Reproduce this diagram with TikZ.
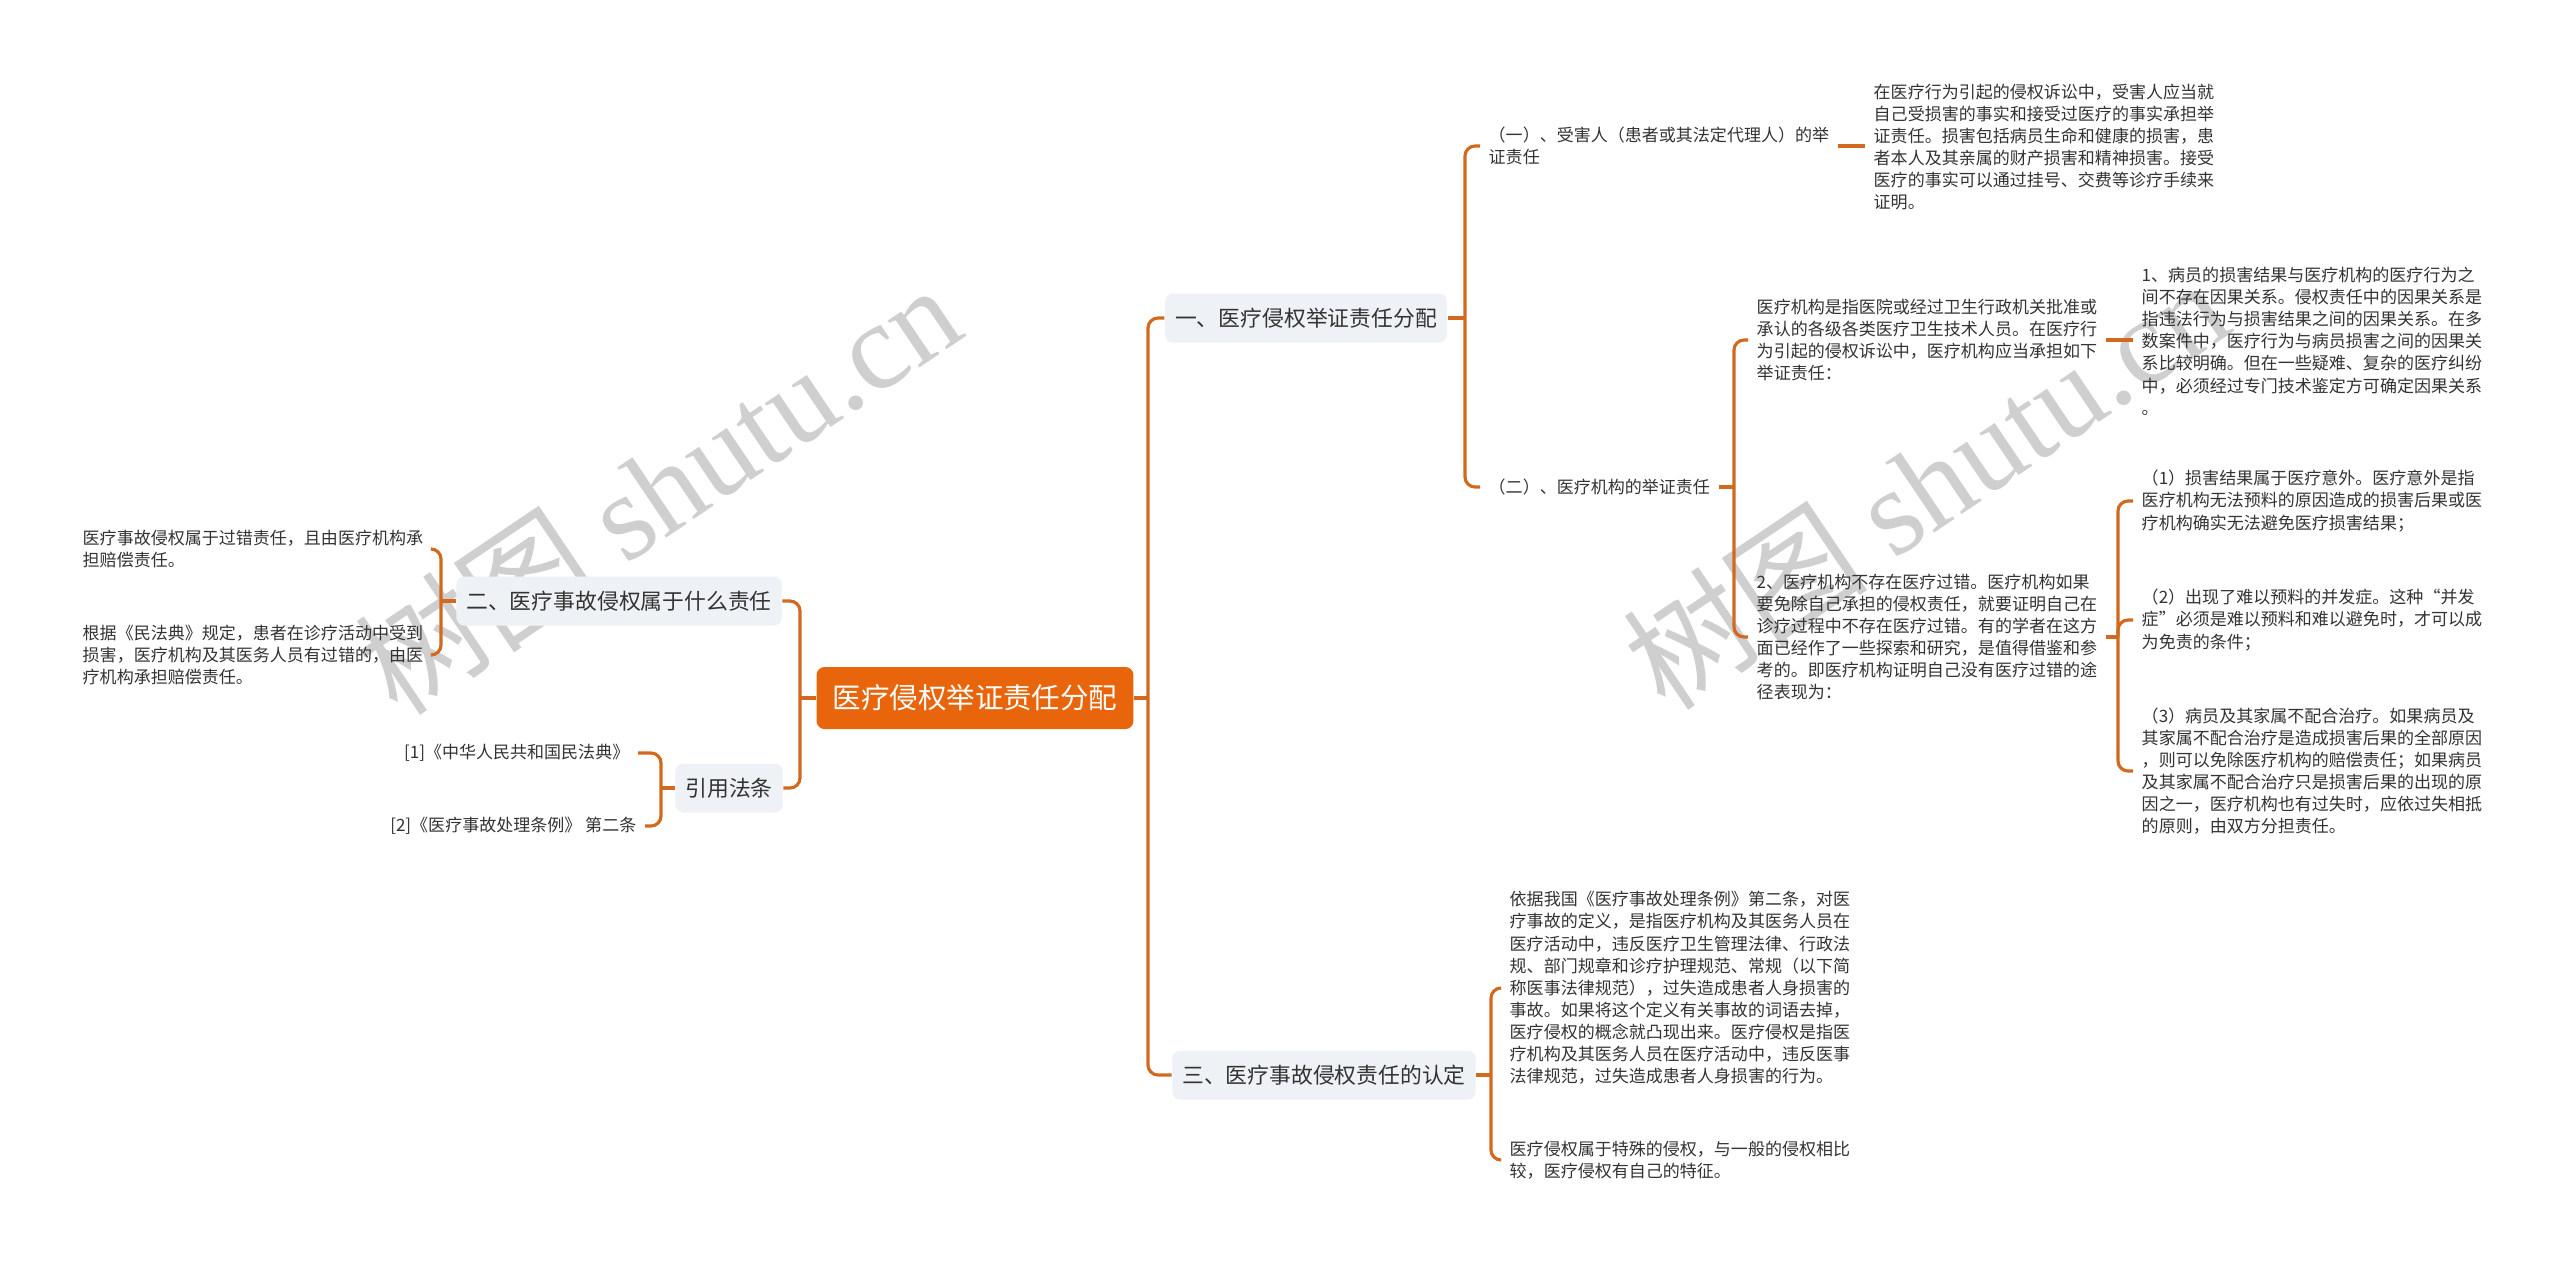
\documentclass[tikz,border=0pt]{standalone}
\usepackage{fontspec}
\setmainfont{Noto Sans CJK SC}
\newfontfamily\wmfont{Liberation Serif}
\usepackage{tikz}
\usetikzlibrary{positioning}
\definecolor{mapline}{HTML}{D2691E}
\definecolor{maporange}{HTML}{E8650C}
\definecolor{mapgray}{HTML}{EEF1F5}
\definecolor{maptext}{HTML}{333333}

\begin{document}
\begin{tikzpicture}[x=0.01cm,y=-0.01cm,
  root/.style={fill=maporange,text=white,rounded corners=0.08cm,inner xsep=0.16cm,minimum height=0.62cm,font=\fontsize{8.1pt}{10pt}\selectfont},
  topic/.style={fill=mapgray,text=maptext,rounded corners=0.08cm,inner xsep=0.1cm,minimum height=0.49cm,font=\fontsize{6.2pt}{8pt}\selectfont},
  leaf/.style={text=maptext,align=left,inner xsep=0.08cm,inner ysep=0pt,font=\fontsize{4.84pt}{6.3pt}\selectfont},
  link/.style={draw=mapline,line width=0.9pt,rounded corners=0.1cm},
  wmark/.style={text=black!19,rotate=34,font=\fontsize{35pt}{35pt}\selectfont}
]
\fill[white] (0,0) rectangle (2560,1262);
\useasboundingbox (0,0) rectangle (2560,1262);
% watermark
\node[wmark] (wmleft) at (657,488) {树图 {\wmfont shutu.cn}};
\node[wmark] (wmright) at (1925,483) {树图 {\wmfont shutu.cn}};

\node[root] (root) at (975,698) {医疗侵权举证责任分配};
\node[topic] (evid) at (1306,318) {一、医疗侵权举证责任分配};
\node[topic] (kind) at (619,601) {二、医疗事故侵权属于什么责任};
\node[topic] (laws) at (729,788) {引用法条};
\node[topic] (ident) at (1324,1075) {三、医疗事故侵权责任的认定};

\node[leaf,anchor=west] (victim) at (1480,146) {（一）、受害人（患者或其法定代理人）的举\\证责任};
\node[leaf,anchor=west] (victimtxt) at (1865,147) {在医疗行为引起的侵权诉讼中，受害人应当就\\自己受损害的事实和接受过医疗的事实承担举\\证责任。损害包括病员生命和健康的损害，患\\者本人及其亲属的财产损害和精神损害。接受\\医疗的事实可以通过挂号、交费等诊疗手续来\\证明。};
\node[leaf,anchor=west] (inst) at (1480,487) {（二）、医疗机构的举证责任};
\node[leaf,anchor=west] (instdef) at (1748,340) {医疗机构是指医院或经过卫生行政机关批准或\\承认的各级各类医疗卫生技术人员。在医疗行\\为引起的侵权诉讼中，医疗机构应当承担如下\\举证责任：};
\node[leaf,anchor=west] (causal) at (2133,341) {1、病员的损害结果与医疗机构的医疗行为之\\间不存在因果关系。侵权责任中的因果关系是\\指违法行为与损害结果之间的因果关系。在多\\数案件中，医疗行为与病员损害之间的因果关\\系比较明确。但在一些疑难、复杂的医疗纠纷\\中，必须经过专门技术鉴定方可确定因果关系\\。};
\node[leaf,anchor=west] (nofault) at (1748,637) {2、医疗机构不存在医疗过错。医疗机构如果\\要免除自己承担的侵权责任，就要证明自己在\\诊疗过程中不存在医疗过错。有的学者在这方\\面已经作了一些探索和研究，是值得借鉴和参\\考的。即医疗机构证明自己没有医疗过错的途\\径表现为：};
\node[leaf,anchor=west] (accident) at (2133,501) {（1）损害结果属于医疗意外。医疗意外是指\\医疗机构无法预料的原因造成的损害后果或医\\疗机构确实无法避免医疗损害结果；};
\node[leaf,anchor=west] (complic) at (2133,620) {（2）出现了难以预料的并发症。这种“并发\\症”必须是难以预料和难以避免时，才可以成\\为免责的条件；};
\node[leaf,anchor=west] (coop) at (2133,771) {（3）病员及其家属不配合治疗。如果病员及\\其家属不配合治疗是造成损害后果的全部原因\\，则可以免除医疗机构的赔偿责任；如果病员\\及其家属不配合治疗只是损害后果的出现的原\\因之一，医疗机构也有过失时，应依过失相抵\\的原则，由双方分担责任。};
\node[leaf,anchor=west] (defn) at (1501,988) {依据我国《医疗事故处理条例》第二条，对医\\疗事故的定义，是指医疗机构及其医务人员在\\医疗活动中，违反医疗卫生管理法律、行政法\\规、部门规章和诊疗护理规范、常规（以下简\\称医事法律规范），过失造成患者人身损害的\\事故。如果将这个定义有关事故的词语去掉，\\医疗侵权的概念就凸现出来。医疗侵权是指医\\疗机构及其医务人员在医疗活动中，违反医事\\法律规范，过失造成患者人身损害的行为。};
\node[leaf,anchor=west] (special) at (1501,1160) {医疗侵权属于特殊的侵权，与一般的侵权相比\\较，医疗侵权有自己的特征。};
\node[leaf,anchor=west] (fault) at (74,549) {医疗事故侵权属于过错责任，且由医疗机构承\\担赔偿责任。};
\node[leaf,anchor=west] (civil) at (74,655) {根据《民法典》规定，患者在诊疗活动中受到\\损害，医疗机构及其医务人员有过错的，由医\\疗机构承担赔偿责任。};
\node[leaf,anchor=east] (law1) at (638,753) {[1]《中华人民共和国民法典》};
\node[leaf,anchor=east] (law2) at (645,826) {[2]《医疗事故处理条例》 第二条};

\coordinate (rr) at (1148,698);
\coordinate (rl) at (800,698);
\coordinate (ev) at (1465,318);
\coordinate (in) at (1734,487);
\coordinate (nf) at (2118,637);
\coordinate (id) at (1491,1075);
\coordinate (kd) at (441,601);
\coordinate (lw) at (661,788);

\draw[link] (root.east) -- (rr);
\draw[link] (rr) |- (evid);
\draw[link] (rr) |- (ident);
\draw[link] (root.west) -- (rl);
\draw[link] (rl) |- (kind);
\draw[link] (rl) |- (laws);

\draw[link] (evid) -- (ev);
\draw[link] (ev) |- (victim);
\draw[link] (ev) |- (inst);
\draw[link] (victim.east) -- (victim.east -| victimtxt.west);
\draw[link] (inst) -- (in);
\draw[link] (in) |- (instdef);
\draw[link] (in) |- (nofault);
\draw[link] (instdef.east) -- (instdef.east -| causal.west);
\draw[link] (nofault) -- (nf);
\draw[link] (nf) |- (accident);
\draw[link] (nf) |- (complic);
\draw[link] (nf) |- (coop);

\draw[link] (ident) -- (id);
\draw[link] (id) |- (defn);
\draw[link] (id) |- (special);

\draw[link] (kind) -- (kd);
\draw[link] (kd) |- (fault);
\draw[link] (kd) |- (civil);
\draw[link] (laws) -- (lw);
\draw[link] (lw) |- (law1);
\draw[link] (lw) |- (law2);
\end{tikzpicture}
\end{document}
